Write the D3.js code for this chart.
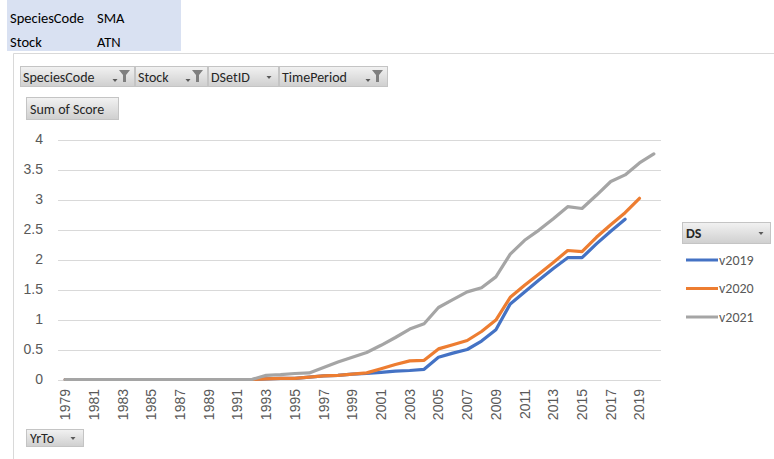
<!DOCTYPE html>
<html>
<head>
<meta charset="utf-8">
<script src="https://cdn.jsdelivr.net/npm/d3@7"></script>
<style>
  body { margin: 0; background: #fff; }
  svg { font-family: Carlito, Lato, "Open Sans", sans-serif; }
</style>
</head>
<body>
<script>
// categories
var years = [1979, 1980, 1981, 1982, 1983, 1984, 1985, 1986, 1987, 1988,
  1989, 1990, 1991, 1992, 1993, 1994, 1995, 1996, 1997, 1998,
  1999, 2000, 2001, 2002, 2003, 2004, 2005, 2006, 2007, 2008,
  2009, 2010, 2011, 2012, 2013, 2014, 2015, 2016, 2017, 2018,
  2019, 2020];

// series values (1979 onwards)
var v2019 = [0, 0, 0, 0, 0, 0, 0, 0, 0, 0, 0, 0, 0, 0,
  0.01, 0.02, 0.02, 0.04, 0.06, 0.07, 0.09, 0.10, 0.12, 0.14,
  0.15, 0.17, 0.37, 0.44, 0.50, 0.64, 0.83, 1.26, 1.46, 1.66,
  1.85, 2.03, 2.03, 2.26, 2.47, 2.67];
var v2020 = [0, 0, 0, 0, 0, 0, 0, 0, 0, 0, 0, 0, 0, 0,
  0.01, 0.02, 0.02, 0.04, 0.06, 0.07, 0.09, 0.11, 0.18, 0.25,
  0.31, 0.32, 0.51, 0.58, 0.65, 0.80, 0.99, 1.37, 1.57, 1.76,
  1.95, 2.15, 2.13, 2.37, 2.58, 2.78, 3.02];
var v2021 = [0, 0, 0, 0, 0, 0, 0, 0, 0, 0, 0, 0, 0, 0,
  0.07, 0.08, 0.10, 0.11, 0.20, 0.29, 0.37, 0.45, 0.57, 0.70,
  0.84, 0.93, 1.20, 1.33, 1.46, 1.53, 1.71, 2.09, 2.32, 2.49,
  2.68, 2.88, 2.85, 3.07, 3.30, 3.41, 3.61, 3.76];

var seriesNames = ["v2019", "v2020", "v2021"];
var seriesValues = [v2019, v2020, v2021];
var colors = ["#4472C4", "#ED7D31", "#A5A5A5"];

var yTicks = [0, 0.5, 1, 1.5, 2, 2.5, 3, 3.5, 4];
var filterFields = ["SpeciesCode", "Stock", "DSetID", "TimePeriod"];

var W = 774, H = 459;
var svg = d3.select("body").append("svg").attr("width", W).attr("height", H);

var defs = svg.append("defs");
var grad = defs.append("linearGradient").attr("id", "btn").attr("x1", 0).attr("x2", 0).attr("y1", 0).attr("y2", 1);
grad.append("stop").attr("offset", "0%").attr("stop-color", "#F2F2F2");
grad.append("stop").attr("offset", "100%").attr("stop-color", "#CFCFCF");

// page filter box
svg.append("rect").attr("x", 7).attr("y", 0).attr("width", 174).attr("height", 51).attr("fill", "#D9E1F2");
var hdr = [["SpeciesCode", "SMA", 18], ["Stock", "ATN", 42]];
hdr.forEach(function (h) {
  svg.append("text").attr("x", 10).attr("y", h[2]).attr("dy", "0.35em")
    .attr("font-size", 14.5).attr("fill", "#000").text(h[0]);
  svg.append("text").attr("x", 97).attr("y", h[2]).attr("dy", "0.35em")
    .attr("font-size", 14.5).attr("fill", "#000").text(h[1]);
});

// chart frame
svg.append("path").attr("d", "M13.5," + H + "V53.5H" + W)
  .attr("fill", "none").attr("stroke", "#D9D9D9");

function dropArrow(g, x, y) {
  g.append("path").attr("d", "M" + (x - 2.5) + "," + y + "h5l-2.5,3z").attr("fill", "#595959");
}
function funnel(g, x, y) {
  g.append("path").attr("d", "M" + x + "," + y + "h11l-4,5v7h-3v-7z").attr("fill", "#7F7F7F");
}

// filter buttons
var segs = [[20, 135], [135, 208], [208, 279], [279, 388]];
var fb = svg.append("g");
segs.forEach(function (s, i) {
  fb.append("rect").attr("x", s[0] + 0.5).attr("y", 66.5).attr("width", s[1] - s[0] - 1).attr("height", 20)
    .attr("fill", "url(#btn)").attr("stroke", "#C4C4C4");
  fb.append("text").attr("x", s[0] + 3).attr("y", 77).attr("dy", "0.35em")
    .attr("font-size", 14).attr("fill", "#262626").text(filterFields[i]);
  if (i === 2) {
    dropArrow(fb, s[1] - 10, 76);
  } else {
    dropArrow(fb, s[1] - 20, 79);
    funnel(fb, s[1] - 16, 70);
  }
});

function button(x, y, w, h, label, bold) {
  var g = svg.append("g");
  g.append("rect").attr("x", x + 0.5).attr("y", y + 0.5).attr("width", w).attr("height", h)
    .attr("fill", "url(#btn)").attr("stroke", "#C4C4C4");
  g.append("text").attr("x", x + 4).attr("y", y + h / 2 + 1).attr("dy", "0.35em")
    .attr("font-size", 14).attr("font-weight", bold ? "bold" : "normal")
    .attr("fill", "#262626").text(label);
  return g;
}
button(26, 97, 92, 22, "Sum of Score");
var yrTo = button(26, 429, 57, 17, "YrTo");
dropArrow(yrTo, 73, 437);
var ds = button(682, 222, 88, 21, "DS", true);
dropArrow(ds, 761, 232);

// scales
var x = d3.scaleBand().domain(years).range([58, 661]).padding(0);
var y = d3.scaleLinear().domain([0, 4]).range([379.5, 139.5]);
function cx(d) { return x(d) + x.bandwidth() / 2; }

// gridlines
svg.append("g").selectAll("line").data(yTicks).join("line")
  .attr("x1", 58).attr("x2", 661)
  .attr("y1", function (d) { return Math.round(y(d)) + 0.5; })
  .attr("y2", function (d) { return Math.round(y(d)) + 0.5; })
  .attr("stroke", "#D9D9D9").attr("stroke-width", 1);

// y axis
var yAxis = svg.append("g").attr("transform", "translate(58,0)")
  .call(d3.axisLeft(y).tickValues(yTicks).tickSize(0).tickPadding(15).tickFormat(d3.format("")));
yAxis.select(".domain").remove();
yAxis.selectAll("text").attr("font-size", 14).attr("fill", "#595959").attr("font-family", null);

// x axis
var xAxis = svg.append("g").attr("transform", "translate(0,380)")
  .call(d3.axisBottom(x).tickValues(years.filter(function (d, i) { return i % 2 === 0; })).tickSize(0));
xAxis.select(".domain").remove();
xAxis.selectAll("text")
  .attr("font-size", 14).attr("fill", "#595959").attr("font-family", null)
  .attr("text-anchor", "end")
  .attr("transform", "translate(0,9) rotate(-90)")
  .attr("x", 0).attr("y", 0).attr("dy", "0.35em");

// lines
var line = d3.line()
  .x(function (d, i) { return cx(years[i]); })
  .y(function (d) { return y(d); });
svg.append("g").selectAll("path").data(seriesValues).join("path")
  .attr("d", line)
  .attr("fill", "none")
  .attr("stroke", function (d, i) { return colors[i]; })
  .attr("stroke-width", 3.2)
  .attr("stroke-linejoin", "round")
  .attr("stroke-linecap", "round");

// legend
var lg = svg.append("g").selectAll("g").data(seriesNames).join("g")
  .attr("transform", function (d, i) { return "translate(686," + (260 + i * 28.5) + ")"; });
lg.append("line").attr("x1", 0).attr("x2", 32).attr("stroke", function (d, i) { return colors[i]; })
  .attr("stroke-width", 3);
lg.append("text").attr("x", 33).attr("dy", "0.35em").attr("font-size", 14).attr("fill", "#595959")
  .text(function (d) { return d; });
</script>
</body>
</html>
